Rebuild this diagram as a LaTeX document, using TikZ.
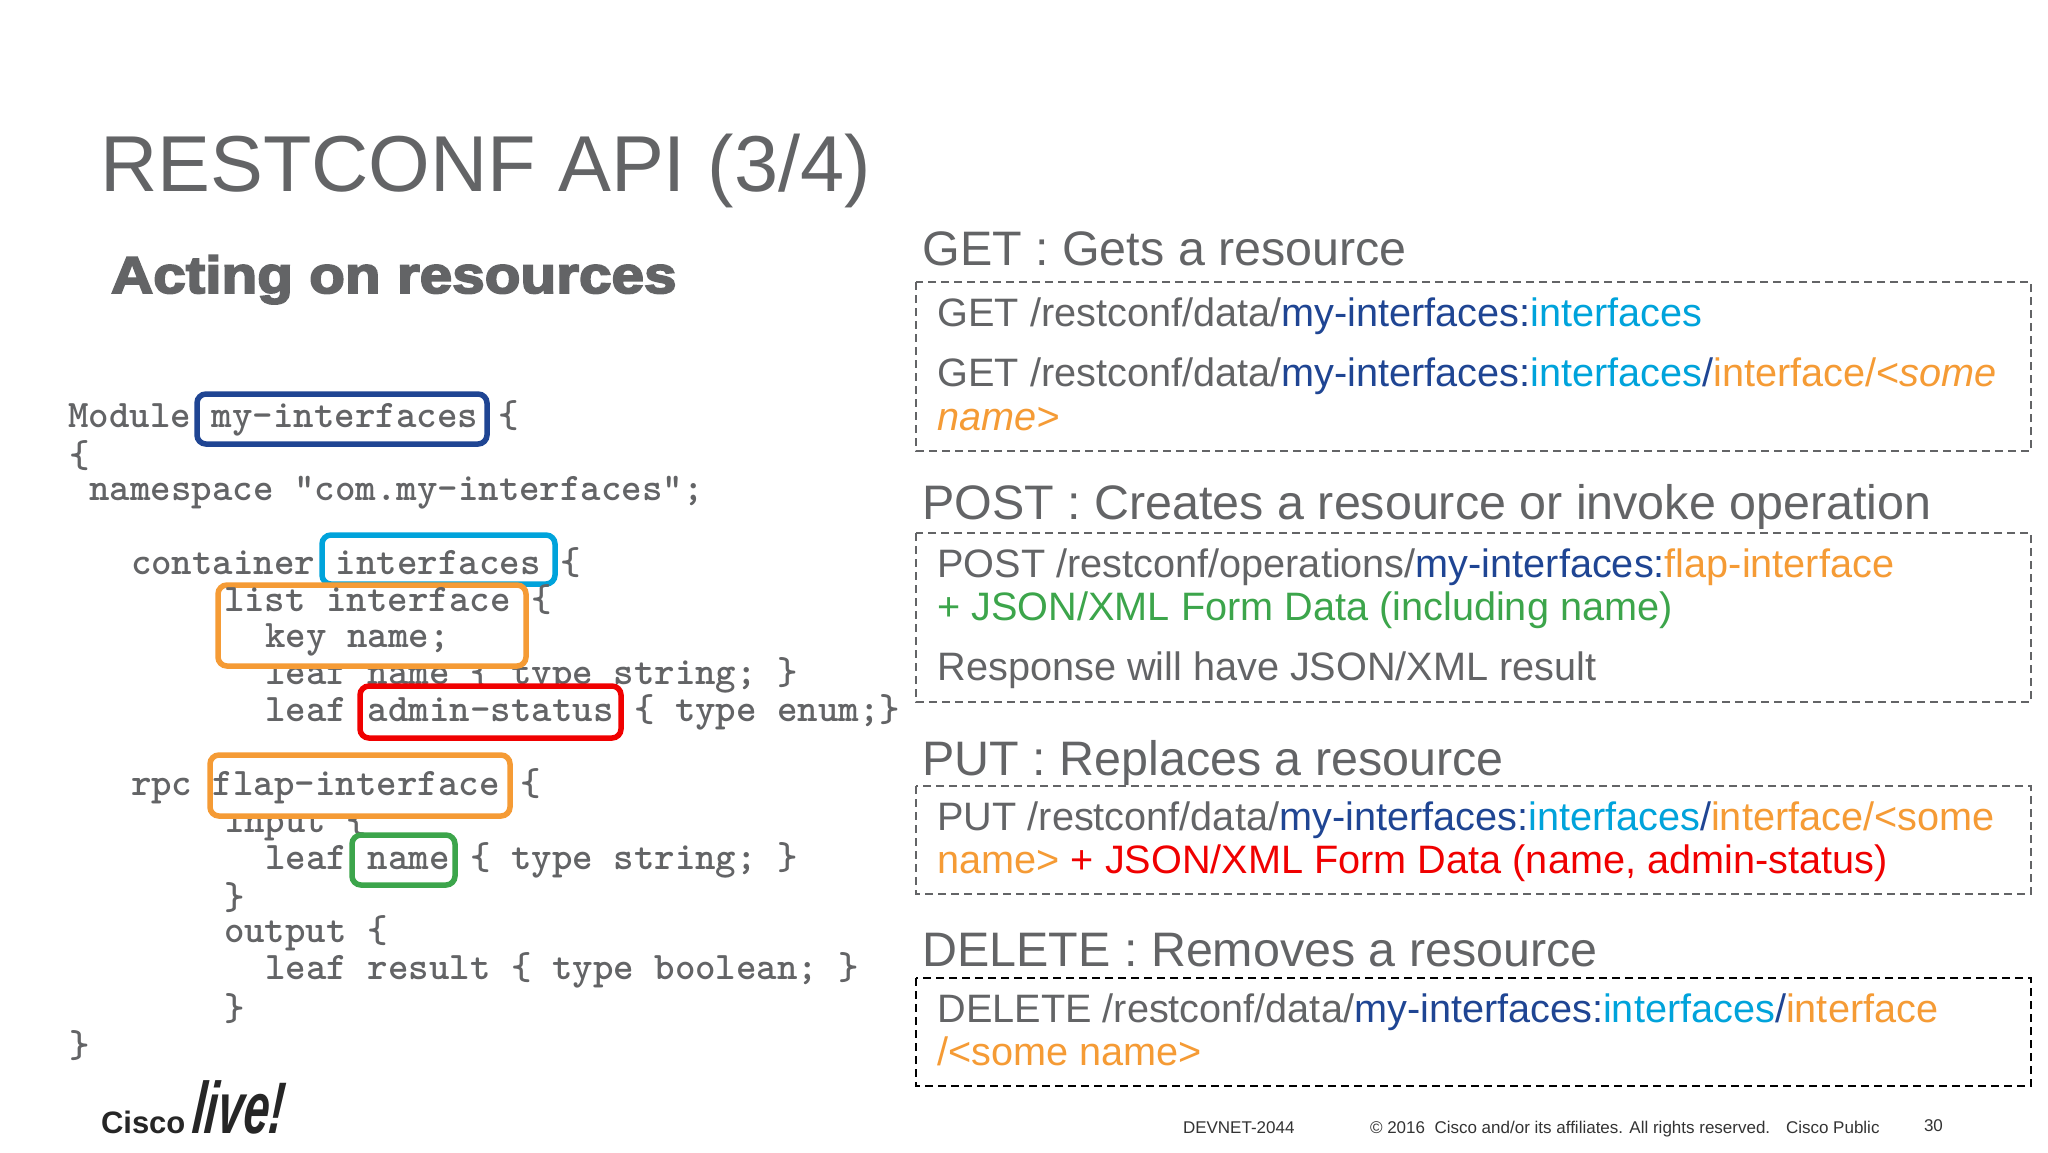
\documentclass[tikz,border=0pt]{standalone}
\usepackage{fontspec}
\setmainfont{Liberation Sans}
\definecolor{navy}{HTML}{1F4593}
\definecolor{sky}{HTML}{00A3DB}
\definecolor{amber}{HTML}{F59B35}
\definecolor{grass}{HTML}{3CA54B}
\definecolor{hot}{HTML}{F00000}
\definecolor{ink}{HTML}{636466}
\newcommand\cN[1]{\textcolor{navy}{#1}}
\newcommand\cS[1]{\textcolor{sky}{#1}}
\newcommand\cA[1]{\textcolor{amber}{#1}}
\newfontfamily\actfont[FakeBold=3.6,FakeStretch=1.125]{Liberation Sans Bold}
\tikzset{
  x=1pt,y=-1pt,
  base/.style={anchor=base west,inner sep=0pt,outer sep=0pt},
  code/.style={base,text=ink,font=\fontsize{39}{39}\selectfont\ttfamily\bfseries},
  head/.style={base,text=ink,font=\fontsize{48.4}{48}\selectfont},
  body/.style={base,text=ink,font=\fontsize{39.66}{40}\selectfont},
  foot/.style={base,text=black!80,font=\fontsize{17}{17}\selectfont},
  mark box/.style={line width=5.5pt,rounded corners=9pt,fill=white},
  dash box/.style={line width=2pt,dash pattern=on 8pt off 5pt,draw=#1},
}
\begin{document}
\begin{tikzpicture}
\useasboundingbox (0,0) rectangle (2048,1152);
\fill[white] (0,0) rectangle (2048,1152);
% title
\node[base,text=ink,font=\fontsize{79.3}{79}\selectfont] (title) at (100,191) {RESTCONF API (3/4)};
\node[base,text=ink,font=\fontsize{52}{52}\actfont] (act) at (111,293) {Acting on resources};
% code partly hidden by the boxes
\node[code] (c8) at (265.5,684.5) {leaf name \{ type string; \}};
\node[code] (c12) at (224,832.5) {input \{};
% highlight boxes
\draw[mark box,draw=navy] (197,394) rectangle (487,444);
\draw[mark box,draw=sky] (322,535) rectangle (555,584);
\draw[mark box,draw=amber] (218,585) rectangle (526,666);
\draw[mark box,draw=hot] (360,686) rectangle (621,738);
\draw[mark box,draw=amber] (210,755) rectangle (510,816);
\draw[mark box,draw=grass] (352,835) rectangle (455,885);
% code
\node[code] (c1) at (68.5,427.5) {Module my-interfaces \{};
\node[code] (c2) at (69,467) {\{};
\node[code] (c3) at (89.5,500.5) {namespace ”com.my-interfaces”;};
\node[code] (c4) at (131,574.5) {container interfaces \{};
\node[code] (c5) at (224,611.5) {list interface \{};
\node[code] (c6) at (265.5,647.5) {key name;};
\node[code] (c9) at (265.5,721.5) {leaf admin-status \{ type enum;\}};
\node[code] (c10) at (131,795.5) {rpc flap-interface \{};
\node[code] (c13) at (265.5,869.5) {leaf name \{ type string; \}};
\node[code] (c14) at (224,909) {\}};
\node[code] (c15) at (224,942.5) {output \{};
\node[code] (c16) at (265.5,979.5) {leaf result \{ type boolean; \}};
\node[code] (c17) at (224,1020) {\}};
\node[code] (c18) at (69,1057) {\}};
% right column
\node[head] (h1) at (922.5,265) {GET : Gets a resource};
\draw[dash box=ink] (916,282) rectangle (2031,451);
\node[body] (g1) at (937.5,326) {GET /restconf/data/\cN{my-interfaces:}\cS{interfaces}};
\node[body] (g2) at (937.5,386) {GET /restconf/data/\cN{my-interfaces:}\cS{interfaces}\cN{/}\cA{interface/<\textit{some}}};
\node[body,text=amber] (g3) at (937.5,430) {\textit{name>}};
\node[head] (h2) at (922.5,519) {POST : Creates a resource or invoke operation};
\draw[dash box=ink] (916,533) rectangle (2031,702);
\node[body] (p1) at (937.5,577) {POST /restconf/operations/\cN{my-interfaces:}\cA{flap-interface}};
\node[body,text=grass] (p2) at (937.5,620) {+ JSON/XML Form Data (including name)};
\node[body] (p3) at (937.5,680) {Response will have JSON/XML result};
\node[head] (h3) at (922.5,775) {PUT : Replaces a resource};
\draw[dash box=ink] (916,786) rectangle (2031,894);
\node[body] (u1) at (937.5,830) {PUT /restconf/data/\cN{my-interfaces:}\cS{interfaces}\cN{/}\cA{interface/<some}};
\node[body] (u2) at (937.5,873) {\cA{name>} \textcolor{hot}{+ JSON/XML Form Data (name, admin-status)}};
\node[head] (h4) at (922.5,966) {DELETE : Removes a resource};
\draw[dash box=black] (916,978) rectangle (2031,1086);
\node[body] (d1) at (937.5,1022) {DELETE /restconf/data/\cN{my-interfaces:}\cS{interfaces}\cN{/}\cA{interface}};
\node[body,text=amber] (d2) at (937.5,1065) {/<some name>};
% footer
\node[foot] (f1) at (1183,1133) {DEVNET-2044};
\node[foot] (f2) at (1370,1133) {© 2016\ \ Cisco and/or its affiliates. All rights reserved.};
\node[foot] (f4) at (1786,1133) {Cisco Public};
\node[foot] (f3) at (1924,1131) {30};
% logo
\node[base,text=black!85,font=\fontsize{31}{31}\selectfont\bfseries] (cisco) at (101,1133) {Cisco};
\node[base,text=black!85,font=\fontsize{73}{73}\selectfont\itshape\bfseries,xscale=0.63,xslant=0.15,transform shape] (live) at (191,1133) {live!};
\end{tikzpicture}
\end{document}
